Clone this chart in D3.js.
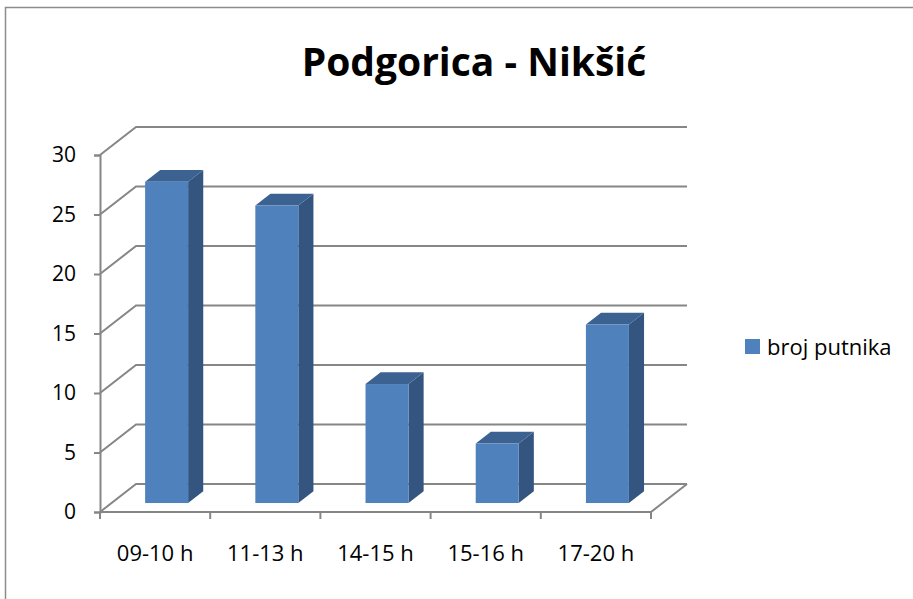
<!DOCTYPE html>
<html>
<head>
<meta charset="utf-8">
<script src="https://cdn.jsdelivr.net/npm/d3@7"></script>
<style>
  body { margin: 0; background: #fff; }
  text { font-family: "Open Sans", "Noto Sans", sans-serif; fill: #000; }
</style>
</head>
<body>
<div id="chart"></div>
<script>
// data
const categories = ["09-10 h", "11-13 h", "14-15 h", "15-16 h", "17-20 h"];
const values = [27, 25, 10, 5, 15];
const yTicks = [0, 5, 10, 15, 20, 25, 30];
const seriesName = "broj putnika";
const title = "Podgorica - Nikšić";

const W = 913, H = 599;
const svg = d3.select("#chart").append("svg")
  .attr("width", W).attr("height", H);

// frame
svg.append("rect")
  .attr("x", 5.5).attr("y", 7.5)
  .attr("width", W + 10).attr("height", H + 10)
  .attr("fill", "none").attr("stroke", "#8c8c8c").attr("stroke-width", 1.5);

// front plane scales, depth offset
const x = d3.scaleBand().domain(categories).range([100, 651]);
const y = d3.scaleLinear().domain([0, 30]).range([512, 155]);
const dx = 36, dy = -28;
const gridColor = "#868686";

// back wall gridlines + left wall diagonals
const grid = svg.append("g").attr("stroke", gridColor).attr("stroke-width", 2).attr("fill", "none");
yTicks.forEach(t => {
  const yf = y(t);
  grid.append("path")
    .attr("d", `M${x.range()[0]},${yf} L${x.range()[0] + dx},${yf + dy} L${x.range()[1] + dx},${yf + dy}`);
});
// floor
grid.append("path")
  .attr("d", `M${x.range()[1] + dx},${y(0) + dy} L${x.range()[1]},${y(0)} L${x.range()[0]},${y(0)}`);

// y axis
const yAxis = svg.append("g").attr("transform", `translate(${x.range()[0]},0)`)
  .call(d3.axisLeft(y).tickValues(yTicks).tickSize(6).tickPadding(18));
yAxis.select(".domain").attr("stroke", gridColor).attr("stroke-width", 2);
yAxis.selectAll(".tick line").attr("stroke", gridColor).attr("stroke-width", 2);
yAxis.selectAll(".tick text").style("font-size", "21px").attr("fill", "#000");

// x axis
const xAxis = svg.append("g").attr("transform", `translate(0,${y(0)})`)
  .call(d3.axisBottom(x).tickSize(0).tickPadding(33));
xAxis.select(".domain").remove();
xAxis.selectAll(".tick text").style("font-size", "22px").attr("fill", "#000");
const xTickPos = categories.map(c => x(c)).concat([x.range()[1]]);
svg.append("g").selectAll("line").data(xTickPos).join("line")
  .attr("x1", d => d).attr("x2", d => d)
  .attr("y1", y(0)).attr("y2", y(0) + 7)
  .attr("stroke", gridColor).attr("stroke-width", 2);

// bars (3d)
const f0 = 0.32, f1 = 0.74;          // depth position of the bar
const barW = 43;
const bars = svg.append("g");
categories.forEach((c, i) => {
  const v = values[i];
  const cx = x(c) + x.bandwidth() / 2 + f0 * dx;
  const x0 = cx - barW / 2, x1 = cx + barW / 2;
  const yb = y(0) + f0 * dy, yt = y(v) + f0 * dy;
  const ox = (f1 - f0) * dx, oy = (f1 - f0) * dy;
  // side
  bars.append("path")
    .attr("d", `M${x1},${yb} L${x1 + ox},${yb + oy} L${x1 + ox},${yt + oy} L${x1},${yt} Z`)
    .attr("fill", "#34557f");
  // top
  bars.append("path")
    .attr("d", `M${x0},${yt} L${x0 + ox},${yt + oy} L${x1 + ox},${yt + oy} L${x1},${yt} Z`)
    .attr("fill", "#3c6291");
  // front
  bars.append("rect")
    .attr("x", x0).attr("y", yt).attr("width", barW).attr("height", yb - yt)
    .attr("fill", "#4f81bd");
});

// title
svg.append("text")
  .attr("x", 474).attr("y", 76)
  .attr("text-anchor", "middle")
  .style("font-size", "39px").style("font-weight", "bold")
  .text(title);

// legend
const legend = svg.append("g").attr("transform", "translate(745,339)");
legend.append("rect").attr("width", 15).attr("height", 15).attr("fill", "#4f81bd");
legend.append("text").attr("x", 22).attr("y", 16).style("font-size", "22px").text(seriesName);
</script>
</body>
</html>
